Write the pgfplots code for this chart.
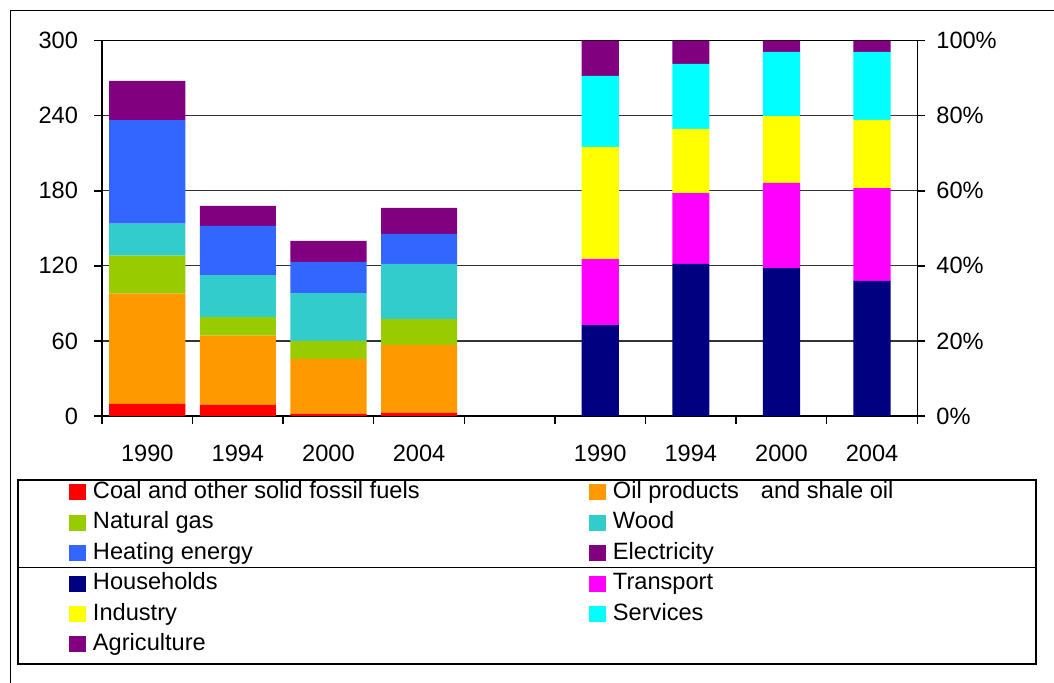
\documentclass[border=0pt]{standalone}
\usepackage{fontspec}
\setmainfont{Liberation Sans}
\usepackage{pgfplots}
\usepackage{pgfplotstable}
\pgfplotsset{compat=1.18}

\definecolor{coal}{HTML}{FF0000}
\definecolor{oil}{HTML}{FF9900}
\definecolor{gas}{HTML}{99CC00}
\definecolor{wood}{HTML}{33CCCC}
\definecolor{heat}{HTML}{3366FF}
\definecolor{elec}{HTML}{800080}
\definecolor{hh}{HTML}{000080}
\definecolor{transp}{HTML}{FF00FF}
\definecolor{indus}{HTML}{FFFF00}
\definecolor{serv}{HTML}{00FFFF}
\definecolor{agri}{HTML}{800080}

\newcommand{\chartfont}{\fontsize{11.8pt}{14pt}\selectfont}
\newcommand{\legtext}[1]{\hspace{3.5pt}\makebox[248pt][l]{#1}}

% fuel use (left scale), stacked segments
\pgfplotstableread{
x    coal oil  gas  wood heat elec
0.5  9.6  88.2 30.4 25.5 82.9 31.2
1.5  8.8  55.4 14.9 33.6 39.2 16.0
2.5  1.6  44.0 14.4 38.3 24.8 16.8
3.5  2.4  54.4 20.7 44.0 24.0 20.8
}\fuels

% shares by sector (right scale, %)
\pgfplotstableread{
x    hh   tr   ind  serv agri
5.5  24.2 17.6 29.9 18.9 9.4
6.5  40.5 18.9 17.1 17.3 6.2
7.5  39.4 22.7 17.8 17.1 3.0
8.5  36.0 24.7 18.2 18.1 3.0
}\sectors

\pgfplotsset{
  base/.style={
    at={(51pt,133.5pt)}, anchor=south west,
    scale only axis, width=407.65pt, height=187.65pt,
    xmin=0, xmax=9, ymin=0,
    tick align=outside, major tick length=4pt,
    tick style={black, line width=0.7pt},
    axis line style={black, line width=0.7pt},
    tick label style={font=\chartfont},
    /pgf/number format/assume math mode=true,
    ybar stacked,
  },
}

\begin{document}
\begin{tikzpicture}
\useasboundingbox (0,0) rectangle (527pt,341.5pt);
\draw[black, line width=0.75pt] (5.25pt,0pt) -- (5.25pt,336.25pt) -- (527pt,336.25pt);
\draw[black, line width=0.6pt] (9pt,9.5pt) rectangle (518pt,101.5pt);
\draw[black, line width=0.6pt] (9pt,57.85pt) -- (518pt,57.85pt);

\begin{axis}[base, ymax=300, bar width=0.84,
  ytick={0,60,...,300}, tick pos=left,
  xtick={0,...,9}, x tick label as interval,
  xticklabels={1990,1994,2000,2004,,1990,1994,2000,2004},
  ymajorgrids, major grid style={black!80, line width=0.6pt},
  yticklabel style={xshift=-4.5pt}, xticklabel style={yshift=-7pt}]
\addplot[fill=coal, draw=none] table[x=x, y=coal] {\fuels};
\addplot[fill=oil, draw=none] table[x=x, y=oil] {\fuels};
\addplot[fill=gas, draw=none] table[x=x, y=gas] {\fuels};
\addplot[fill=wood, draw=none] table[x=x, y=wood] {\fuels};
\addplot[fill=heat, draw=none] table[x=x, y=heat] {\fuels};
\addplot[fill=elec, draw=none] table[x=x, y=elec] {\fuels};
\end{axis}

\begin{axis}[base, ymax=100, bar width=0.41,
  axis x line=none, axis y line*=right,
  ytick={0,20,...,100}, yticklabel={\pgfmathprintnumber{\tick}\%},
  yticklabel style={xshift=2pt}]
\addplot[fill=hh, draw=none] table[x=x, y=hh] {\sectors};
\addplot[fill=transp, draw=none] table[x=x, y=tr] {\sectors};
\addplot[fill=indus, draw=none] table[x=x, y=ind] {\sectors};
\addplot[fill=serv, draw=none] table[x=x, y=serv] {\sectors};
\addplot[fill=agri, draw=none] table[x=x, y=agri] {\sectors};
\end{axis}

\begin{axis}[at={(0pt,0pt)}, anchor=south west, scale only axis,
  width=527pt, height=341.5pt, hide axis, xmin=0, xmax=1, ymin=0, ymax=1,
  legend columns=2, legend cell align=left,
  legend image code/.code={\fill[#1] (0pt,-4pt) rectangle (8.5pt,4pt);},
  legend style={at={(0.06546,0.2966)}, anchor=north west, draw=none, fill=none,
    inner sep=0pt, outer sep=0pt, row sep=3.2pt, column sep=0pt,
    font=\chartfont, nodes={inner sep=0pt, outer sep=0pt,
      text height=9pt, text depth=3pt}}]
\addlegendimage{fill=coal, draw=none}
\addlegendentry{\legtext{Coal and other solid fossil fuels}}
\addlegendimage{fill=oil, draw=none}
\addlegendentry{\legtext{Oil products\hspace{11pt}and shale oil}}
\addlegendimage{fill=gas, draw=none}
\addlegendentry{\legtext{Natural gas}}
\addlegendimage{fill=wood, draw=none}
\addlegendentry{\legtext{Wood}}
\addlegendimage{fill=heat, draw=none}
\addlegendentry{\legtext{Heating energy}}
\addlegendimage{fill=elec, draw=none}
\addlegendentry{\legtext{Electricity}}
\addlegendimage{fill=hh, draw=none}
\addlegendentry{\legtext{Households}}
\addlegendimage{fill=transp, draw=none}
\addlegendentry{\legtext{Transport}}
\addlegendimage{fill=indus, draw=none}
\addlegendentry{\legtext{Industry}}
\addlegendimage{fill=serv, draw=none}
\addlegendentry{\legtext{Services}}
\addlegendimage{fill=agri, draw=none}
\addlegendentry{\legtext{Agriculture}}
\end{axis}
\end{tikzpicture}
\end{document}
